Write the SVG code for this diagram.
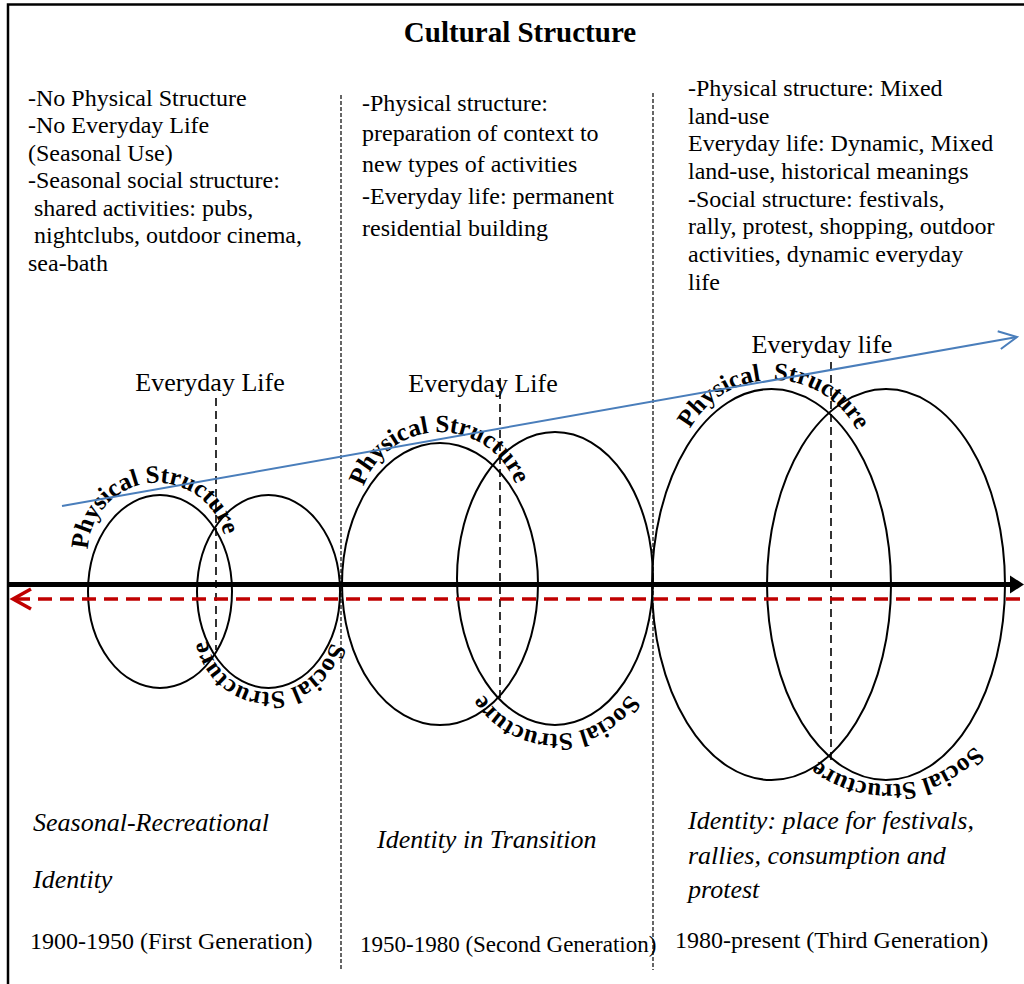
<svg xmlns="http://www.w3.org/2000/svg" xmlns:xlink="http://www.w3.org/1999/xlink" width="1024" height="984" viewBox="0 0 1024 984">
<style>
.t{font-family:"Liberation Serif","Times New Roman",serif;font-size:24px;fill:#000}
.it{font-family:"Liberation Serif","Times New Roman",serif;font-size:26px;font-style:italic;fill:#000}
.lbl{font-family:"Liberation Serif","Times New Roman",serif;font-size:26px;fill:#000}
.arc{font-family:"Liberation Serif","Times New Roman",serif;font-size:25px;font-weight:bold;fill:#000}
.ell{fill:none;stroke:#000;stroke-width:2}
.div{stroke:#000;stroke-width:1.2;stroke-dasharray:4 2;fill:none}
.cen{stroke:#000;stroke-width:1.6;stroke-dasharray:8 5;fill:none}
</style>
<defs>
<marker id="blueHead" markerUnits="userSpaceOnUse" markerWidth="24" markerHeight="24" refX="20" refY="10" orient="auto" viewBox="0 0 24 20">
<path d="M2,1 L20,10 L2,19" fill="none" stroke="#4a7ebb" stroke-width="2"/>
</marker>
<marker id="blackHead" markerUnits="userSpaceOnUse" markerWidth="16" markerHeight="20" refX="1" refY="10" orient="auto" viewBox="0 0 16 20">
<path d="M0,1 L14,10 L0,19 Z" fill="#000"/>
</marker>
<path id="p1" d="M90.7,571 A69,69 0 1 1 225.8,556.8"/>
<path id="s1" d="M331.2,619.1 A63,63 0 1 1 207.2,617"/>
<path id="p2" d="M360.4,528.2 A81,81 0 1 1 520,525.9"/>
<path id="s2" d="M640.7,633.1 A86,86 0 1 1 471.3,633.1"/>
<path id="p3" d="M679.3,490.5 A95,95 0 1 1 866.4,492.5"/>
<path id="s3" d="M999.8,637.2 A116,116 0 1 1 772.4,658.7"/>
</defs>
<rect width="1024" height="984" fill="#fff"/>
<g id="frame" fill="none" stroke="#000" stroke-width="2.5">
<path d="M8,984 L8,4.5 L1024,4.5"/>
</g>
<text id="title" x="520" y="42" text-anchor="middle" style="font-family:'Liberation Serif','Times New Roman',serif;font-size:29px;font-weight:bold">Cultural Structure</text>
<g id="dividers">
<line class="div" x1="341" y1="95" x2="341" y2="970"/>
<line class="div" x1="653" y1="93" x2="653" y2="970"/>
</g>
<g id="text-first" class="t">
<text x="28" y="105.7">-No Physical Structure</text>
<text x="28" y="133.2">-No Everyday Life</text>
<text x="28" y="160.7">(Seasonal Use)</text>
<text x="28" y="188.2">-Seasonal social structure:</text>
<text x="34" y="215.7">shared activities: pubs,</text>
<text x="34" y="243.2">nightclubs, outdoor cinema,</text>
<text x="28" y="270.7">sea-bath</text>
</g>
<g id="text-second" class="t">
<text x="362" y="111">-Physical structure:</text>
<text x="362" y="141">preparation of context to</text>
<text x="362" y="172">new types of activities</text>
<text x="362" y="204">-Everyday life: permanent</text>
<text x="362" y="236">residential building</text>
</g>
<g id="text-third" class="t">
<text x="688" y="96">-Physical structure: Mixed</text>
<text x="688" y="124">land-use</text>
<text x="688" y="151">Everyday life: Dynamic, Mixed</text>
<text x="688" y="179">land-use, historical meanings</text>
<text x="688" y="207">-Social structure: festivals,</text>
<text x="688" y="234">rally, protest, shopping, outdoor</text>
<text x="688" y="262">activities, dynamic everyday</text>
<text x="688" y="290">life</text>
</g>
<g id="group-first">
<ellipse class="ell" cx="160" cy="591.5" rx="72" ry="96.5"/>
<ellipse class="ell" cx="268.5" cy="591.5" rx="71.5" ry="96.5"/>
<line class="cen" x1="216" y1="398" x2="216" y2="650"/>
<text class="lbl" x="210" y="391" text-anchor="middle">Everyday Life</text>
<text class="arc"><textPath xlink:href="#p1" startOffset="50%" text-anchor="middle">Physical Structure</textPath></text>
<text class="arc"><textPath xlink:href="#s1" startOffset="50%" text-anchor="middle">Social Structure</textPath></text>
</g>
<g id="group-second">
<ellipse class="ell" cx="440" cy="584" rx="98" ry="141"/>
<ellipse class="ell" cx="555" cy="578.5" rx="98" ry="146.5"/>
<line class="cen" x1="500" y1="378" x2="500" y2="700"/>
<text class="lbl" x="483" y="392" text-anchor="middle">Everyday Life</text>
<text class="arc"><textPath xlink:href="#p2" startOffset="50%" text-anchor="middle">Physical Structure</textPath></text>
<text class="arc"><textPath xlink:href="#s2" startOffset="50%" text-anchor="middle">Social Structure</textPath></text>
</g>
<g id="group-third">
<ellipse class="ell" cx="771.5" cy="584.5" rx="119.5" ry="195.5"/>
<ellipse class="ell" cx="886" cy="584.5" rx="119" ry="195.5"/>
<line class="cen" x1="831" y1="362" x2="831" y2="760"/>
<text class="lbl" x="822" y="353" text-anchor="middle">Everyday life</text>
<text class="arc"><textPath xlink:href="#p3" startOffset="50%" text-anchor="middle">Physical&#160; Structure</textPath></text>
<text class="arc"><textPath xlink:href="#s3" startOffset="50%" text-anchor="middle">Social Structure</textPath></text>
</g>
<g id="connectors">
<line x1="62" y1="506" x2="1017" y2="337" stroke="#4a7ebb" stroke-width="2" marker-end="url(#blueHead)"/>
<line x1="8" y1="584.5" x2="1011" y2="584.5" stroke="#000" stroke-width="5" marker-end="url(#blackHead)"/>
<line x1="1020" y1="599" x2="16" y2="599" stroke="#c00000" stroke-width="3.5" stroke-dasharray="14 8"/>
<path d="M31,589 L13,599 L31,609" fill="none" stroke="#c00000" stroke-width="3.5"/>
</g>
<g id="identities" class="it">
<text x="33" y="831">Seasonal-Recreational</text>
<text x="33" y="888">Identity</text>
<text x="377" y="848">Identity in Transition</text>
<text x="688" y="829">Identity: place for festivals,</text>
<text x="688" y="864">rallies, consumption and</text>
<text x="688" y="898">protest</text>
</g>
<g id="periods">
<text class="t" x="30" y="949">1900-1950 (First Generation)</text>
<text class="t" x="360" y="952" style="font-size:23px">1950-1980 (Second Generation)</text>
<text class="t" x="675" y="948">1980-present (Third Generation)</text>
</g>
</svg>
